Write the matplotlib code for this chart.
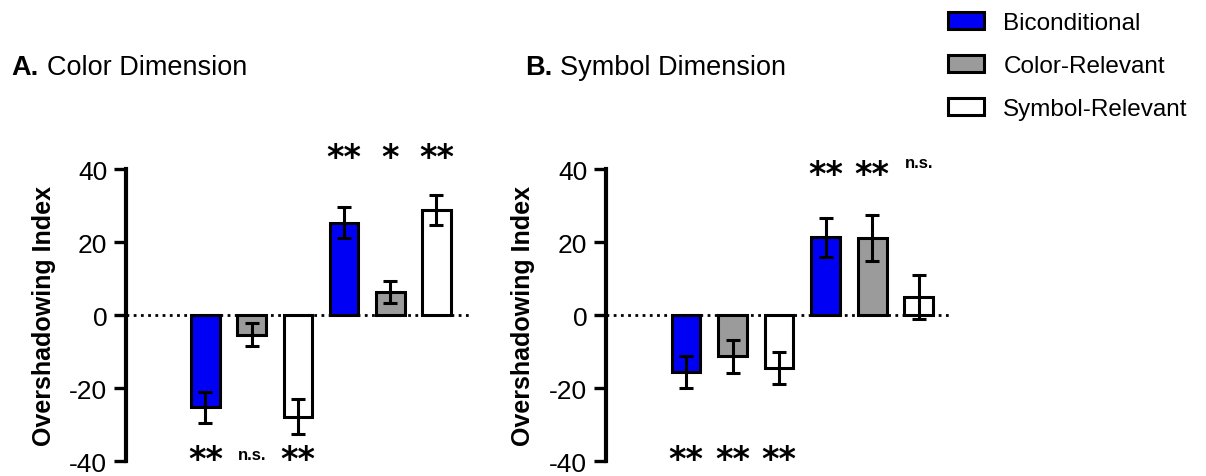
import matplotlib
matplotlib.use('Agg')
import matplotlib.pyplot as plt
import numpy as np

plt.rcParams['font.family'] = ['Liberation Sans', 'DejaVu Sans']
plt.rcParams['axes.unicode_minus'] = False

# series / groups
groups = ['Biconditional', 'Color-Relevant', 'Symbol-Relevant']
colors = ['#0000f5', '#9b9b9b', '#ffffff']

# Color dimension: first three bars (negative block), next three (positive block)
color_means = [-25.3, -5.4, -27.8, 25.3, 6.2, 28.8]
color_errs = [4.3, 3.2, 4.9, 4.3, 3.0, 4.2]
color_sig_bottom = ['**', 'n.s.', '**']
color_sig_top = ['**', '*', '**']

# Symbol dimension
symbol_means = [-15.6, -11.3, -14.5, 21.3, 21.1, 5.0]
symbol_errs = [4.5, 4.6, 4.5, 5.4, 6.3, 6.0]
symbol_sig_bottom = ['**', '**', '**']
symbol_sig_top = ['**', '**', 'n.s.']

yticks = [-40, -20, 0, 20, 40]

fig = plt.figure(figsize=(12.06, 4.77), dpi=100)

ax_a = fig.add_axes([0.1045, 0.0314, 0.285, 0.612])
ax_b = fig.add_axes([0.5025, 0.0314, 0.287, 0.612])


def draw_panel(ax, means, errs, sig_bottom, sig_top, top_y, top_ns_y, bottom_y, bottom_ns_y):
    x = np.arange(len(means))
    bar_colors = colors + colors
    bars = ax.bar(x, means, width=0.62, color=bar_colors, edgecolor='black',
                  linewidth=2.2, zorder=3)
    ax.errorbar(x, means, yerr=errs, fmt='none', ecolor='black', elinewidth=2.2,
                capsize=5, capthick=2.2, zorder=4)
    ax.axhline(0, color='black', linestyle=(0, (1, 1.6)), linewidth=2.0, zorder=5)

    ax.set_ylim(-40, 40)
    ax.set_xlim(-1.72, 5.72)
    ax.set_yticks(yticks)
    ax.set_xticks([])
    for s in ['top', 'right', 'bottom']:
        ax.spines[s].set_visible(False)
    ax.spines['left'].set_linewidth(3)
    ax.tick_params(axis='y', length=9, width=2.4, labelsize=19, pad=4.5)
    ax.set_ylabel('Overshadowing Index', fontsize=18, fontweight='bold')
    ax.yaxis.set_label_coords(-0.205, 0.5)

    # significance marks
    for i, s in enumerate(sig_bottom):
        if s == 'n.s.':
            ax.text(x[i], bottom_ns_y, s, ha='center', va='center', fontsize=12,
                    fontweight='bold', clip_on=False)
        else:
            ax.text(x[i], bottom_y, s, ha='center', va='center', fontsize=24,
                    fontweight='bold', clip_on=False, family='DejaVu Sans')
    for i, s in enumerate(sig_top):
        if s == 'n.s.':
            ax.text(x[i + 3], top_ns_y, s, ha='center', va='center', fontsize=12,
                    fontweight='bold', clip_on=False)
        else:
            ax.text(x[i + 3], top_y, s, ha='center', va='center', fontsize=24,
                    fontweight='bold', clip_on=False, family='DejaVu Sans')
    return bars


bars = draw_panel(ax_a, color_means, color_errs, color_sig_bottom, color_sig_top,
                  43.3, 43.3, -39.7, -38.1)
draw_panel(ax_b, symbol_means, symbol_errs, symbol_sig_bottom, symbol_sig_top,
           38.6, 41.9, -39.7, -38.1)

# panel titles
fig.text(11 / 1206, 1 - 68 / 477, 'A.', fontsize=19.5, fontweight='bold', va='center')
fig.text(47 / 1206, 1 - 68 / 477, 'Color Dimension', fontsize=19.5, va='center')
fig.text(525 / 1206, 1 - 68 / 477, 'B.', fontsize=19.5, fontweight='bold', va='center')
fig.text(560 / 1206, 1 - 68 / 477, 'Symbol Dimension', fontsize=19.5, va='center')

# legend
handles = [bars[0], bars[1], bars[2]]
fig.legend(handles, groups, loc='upper left', bbox_to_anchor=(947.5 / 1206, 1 - 13 / 477),
           frameon=False, fontsize=17.5, handlelength=1.5, handleheight=0.68,
           handletextpad=0.8, labelspacing=0.87, borderpad=0, borderaxespad=0)

fig.savefig('out.png', dpi=100)
